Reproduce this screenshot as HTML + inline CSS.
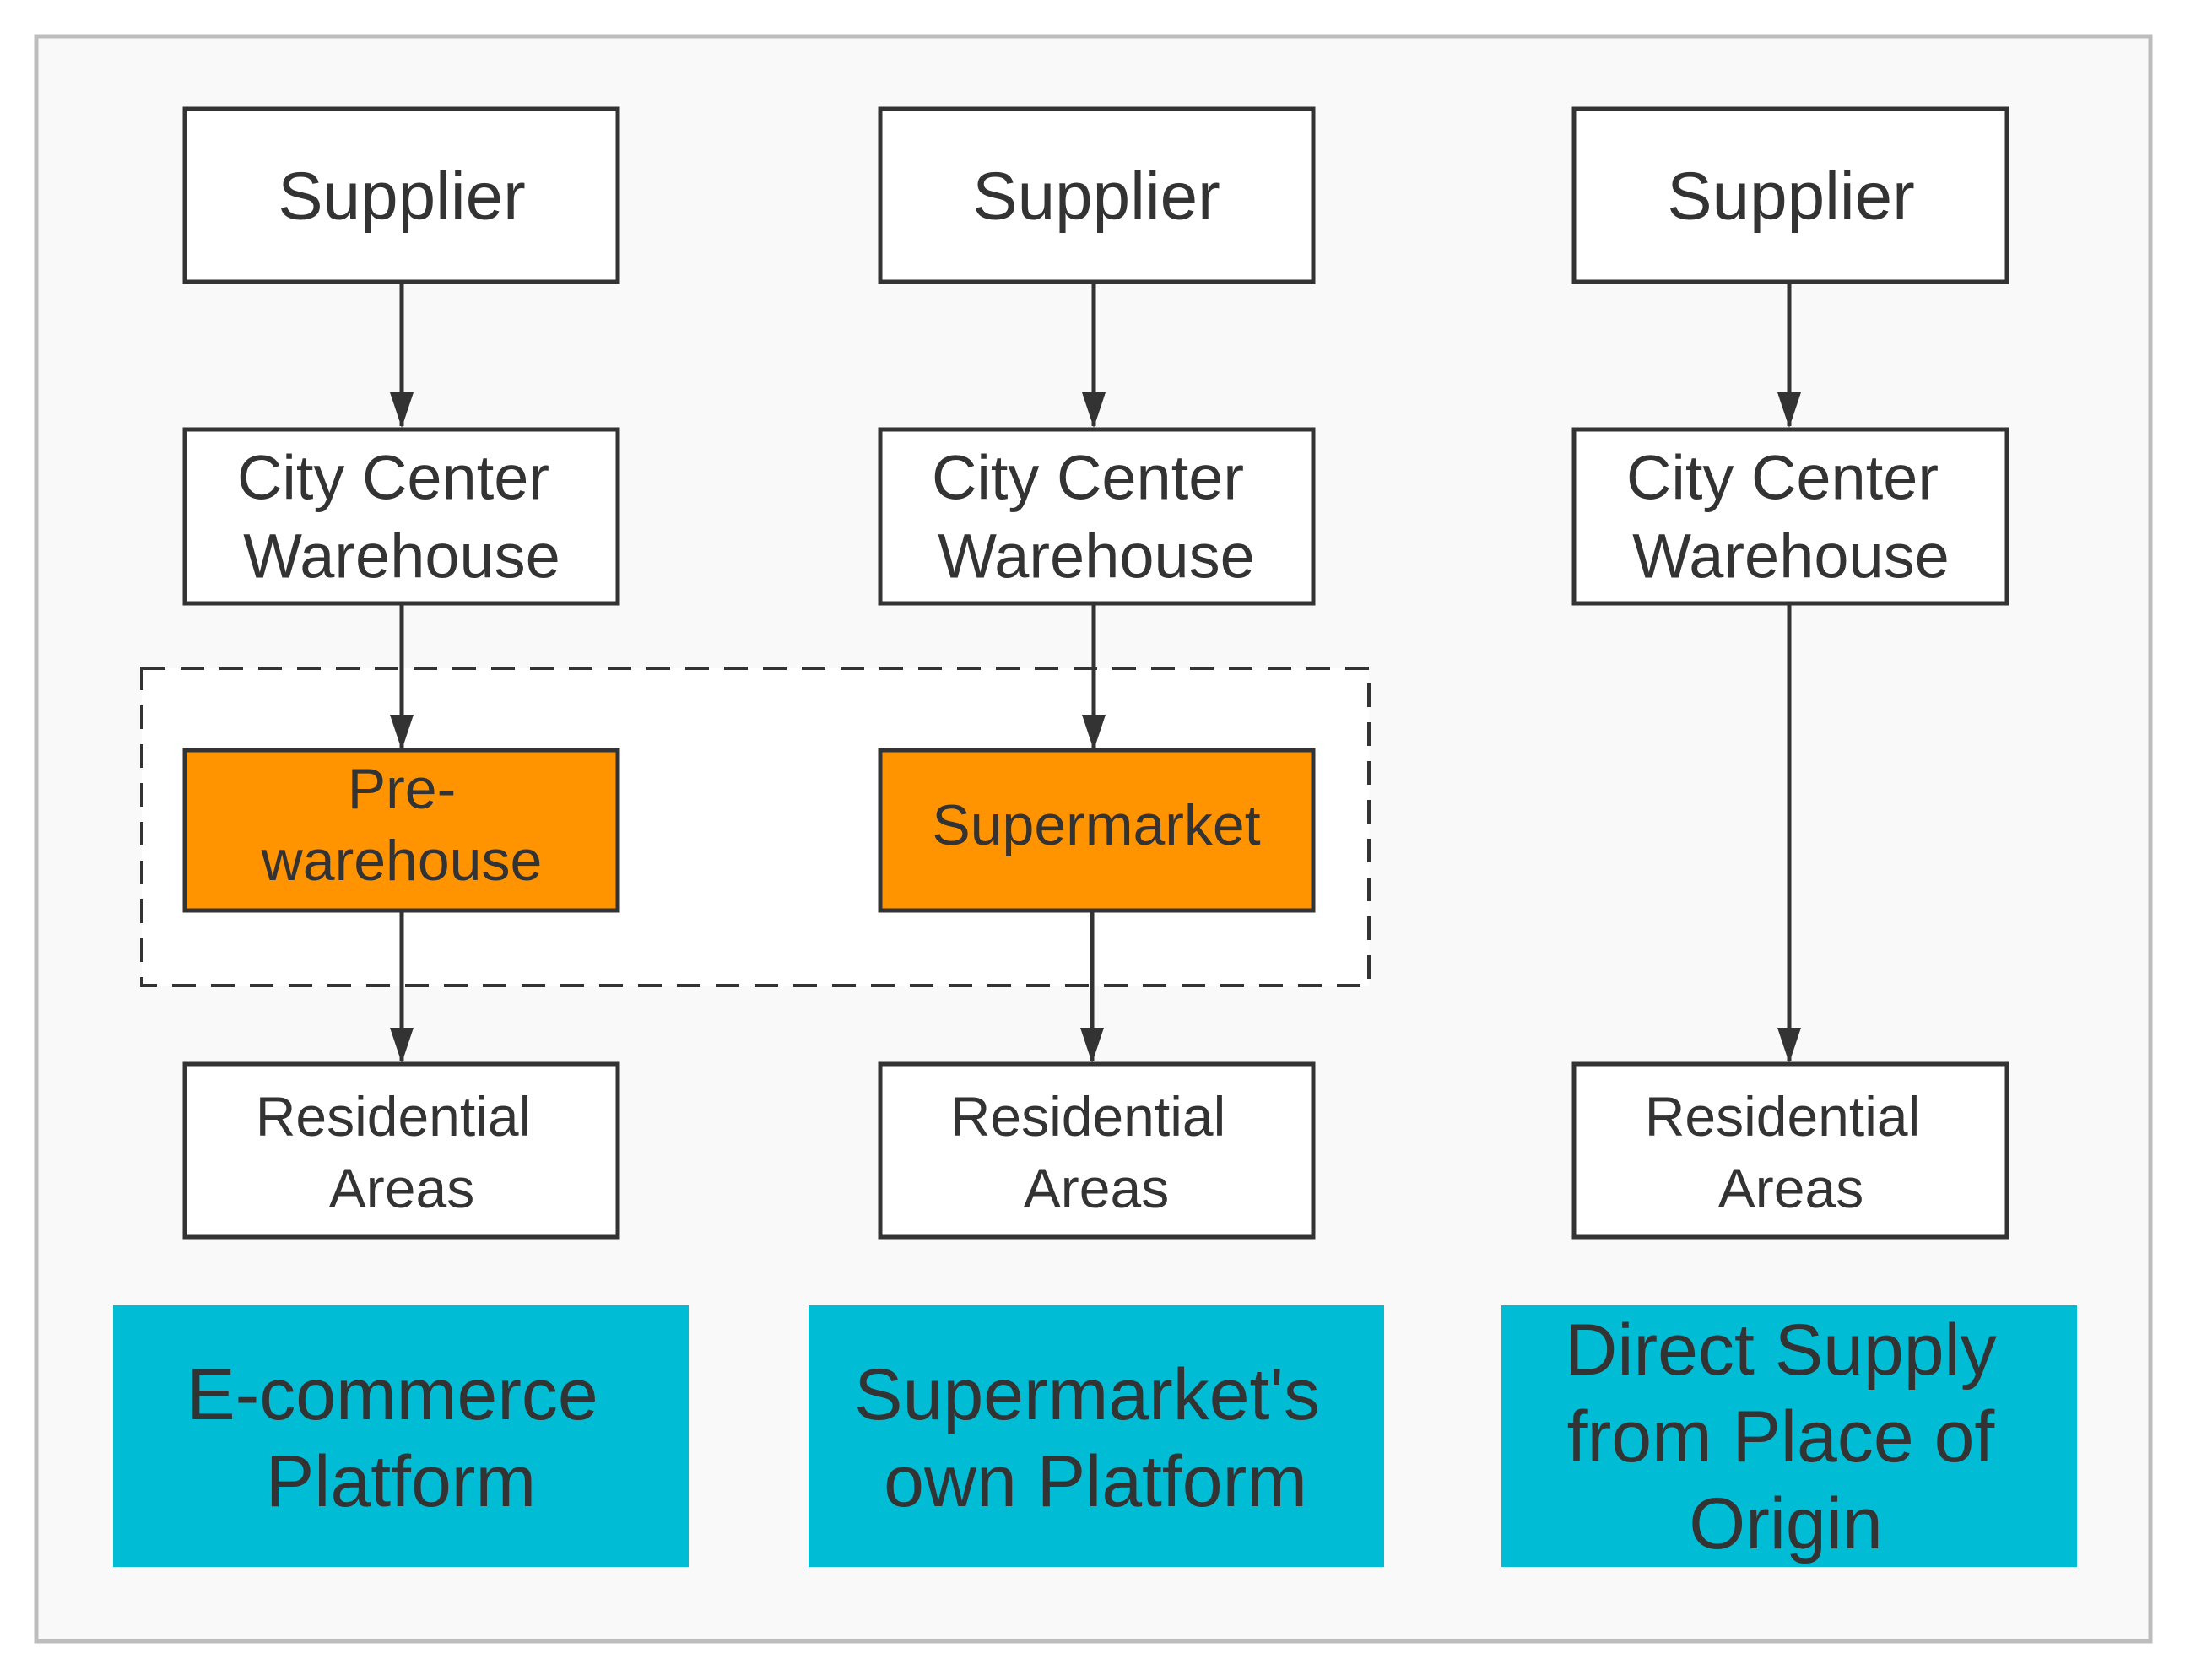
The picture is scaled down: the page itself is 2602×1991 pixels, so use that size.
<!DOCTYPE html>
<html><head><meta charset="utf-8"><style>
html,body{margin:0;padding:0;background:#fff}
svg{display:block}
text{font-family:"Liberation Sans",sans-serif;fill:#333;text-anchor:middle;dominant-baseline:central}
</style></head><body>
<svg width="2602" height="1991" viewBox="0 0 2602 1991" xmlns="http://www.w3.org/2000/svg">
<rect x="43" y="43" width="2505" height="1902" fill="#f9f9f9" stroke="#bdbdbd" stroke-width="5"/>
<rect x="168" y="792" width="1454" height="376" fill="#fff" stroke="#333" stroke-width="4" stroke-dasharray="28,18"/>
<g stroke="#333" stroke-width="5" fill="none">
<path d="M476 334 V505"/><path d="M1296 334 V505"/><path d="M2120 334 V505"/>
<path d="M476 715 V887"/><path d="M1296 715 V887"/>
<path d="M476 1079 V1258"/><path d="M1294 1079 V1258"/>
<path d="M2120 715 V1258"/>
</g>
<g fill="#333">
<path d="M462 465 L490 465 L476 507 z"/><path d="M1282 465 L1310 465 L1296 507 z"/><path d="M2106 465 L2134 465 L2120 507 z"/>
<path d="M462 847 L490 847 L476 889 z"/><path d="M1282 847 L1310 847 L1296 889 z"/>
<path d="M462 1218 L490 1218 L476 1260 z"/><path d="M1280 1218 L1308 1218 L1294 1260 z"/><path d="M2106 1218 L2134 1218 L2120 1260 z"/>
</g>
<g stroke="#333" stroke-width="5" fill="#fff">
<rect x="219" y="129" width="513" height="205"/><rect x="1043" y="129" width="513" height="205"/><rect x="1865" y="129" width="513" height="205"/>
<rect x="219" y="509" width="513" height="206"/><rect x="1043" y="509" width="513" height="206"/><rect x="1865" y="509" width="513" height="206"/>
<rect x="219" y="1261" width="513" height="205"/><rect x="1043" y="1261" width="513" height="205"/><rect x="1865" y="1261" width="513" height="205"/>
<rect x="219" y="889" width="513" height="190" fill="#ff9400"/><rect x="1043" y="889" width="513" height="190" fill="#ff9400"/>
</g>
<g fill="#00bcd4">
<rect x="134" y="1547" width="682" height="310"/><rect x="958" y="1547" width="682" height="310"/><rect x="1779" y="1547" width="682" height="310"/>
</g>
<g font-size="80"><text x="476" y="232">Supplier</text><text x="1299" y="232">Supplier</text><text x="2122" y="232">Supplier</text></g>
<g font-size="74">
<text x="466" y="566">City Center</text><text x="476" y="659">Warehouse</text>
<text x="1289" y="566">City Center</text><text x="1299" y="659">Warehouse</text>
<text x="2112" y="566">City Center</text><text x="2122" y="659">Warehouse</text>
</g>
<g font-size="68"><text x="476" y="935">Pre-</text><text x="476" y="1020">warehouse</text><text x="1299" y="978">Supermarket</text></g>
<g font-size="66">
<text x="466" y="1323">Residential</text><text x="476" y="1408">Areas</text>
<text x="1289" y="1323">Residential</text><text x="1299" y="1408">Areas</text>
<text x="2112" y="1323">Residential</text><text x="2122" y="1408">Areas</text>
</g>
<g font-size="86">
<text x="465" y="1653">E-commerce</text><text x="475" y="1756">Platform</text>
<text x="1288" y="1653">Supermarket's</text><text x="1298" y="1756">own Platform</text>
<text x="2110" y="1600">Direct Supply</text><text x="2110" y="1703">from Place of</text><text x="2116" y="1806">Origin</text>
</g>
</svg>
</body></html>
